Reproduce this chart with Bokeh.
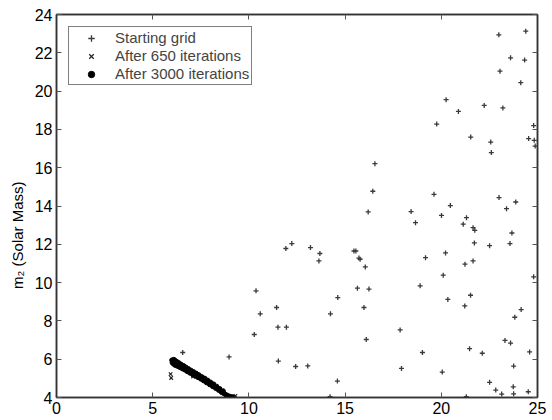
from bokeh.plotting import figure
from bokeh.models import LinearAxis, SingleIntervalTicker, Legend, LegendItem, Range1d, CustomLabelingPolicy
from bokeh.embed import file_html
from bokeh.resources import INLINE

# Starting grid points (m1, m2)
grid_x = [22.99, 24.39, 23.6, 24.33, 23.05, 24.13, 20.25, 20.89, 22.23, 23.2,
          19.76, 24.8, 21.53, 24.54, 24.83, 24.88, 22.57, 22.6, 16.55, 16.44,
          19.62, 23.0, 23.87, 20.47, 23.39, 16.2, 18.43, 20.01, 18.66, 21.31,
          21.14, 21.65, 21.74, 23.67, 21.72, 22.51, 23.57, 11.92, 12.23, 13.2,
          13.69, 13.64, 15.46, 15.56, 15.72, 15.78, 16.05, 19.18, 20.22, 21.65,
          21.23, 20.1, 24.8, 10.37, 10.59, 10.28, 11.44, 11.51, 11.95, 11.53,
          12.43, 13.06, 14.24, 14.62, 14.6, 14.22, 15.64, 16.24, 15.98, 16.1,
          17.86, 17.93, 18.9, 19.02, 20.05, 20.34, 21.22, 21.52, 21.47, 21.3,
          22.13, 22.51, 22.83, 23.14, 23.31, 23.6, 23.76, 23.74, 23.76, 23.82,
          24.15, 24.52, 24.59, 6.56, 8.97]
grid_y = [22.94, 23.13, 21.74, 21.62, 21.04, 20.44, 19.55, 18.94, 19.25, 19.12,
          18.28, 18.2, 17.6, 17.52, 17.43, 17.13, 17.34, 16.79, 16.21, 14.77,
          14.61, 14.44, 14.21, 14.02, 13.86, 13.69, 13.71, 13.51, 13.13, 13.39,
          13.05, 12.87, 12.73, 12.59, 12.07, 11.93, 12.04, 11.78, 12.04, 11.83,
          11.52, 11.13, 11.65, 11.65, 11.28, 11.22, 10.82, 11.3, 11.55, 11.13,
          10.96, 10.39, 10.3, 9.57, 8.37, 7.29, 8.70, 7.67, 7.67, 5.90,
          5.62, 5.65, 8.37, 9.22, 4.86, 4.04, 9.71, 9.66, 8.70, 7.03,
          7.53, 5.52, 9.83, 6.35, 5.33, 9.12, 8.78, 9.34, 6.55, 4.04,
          6.31, 4.79, 4.39, 4.18, 6.98, 6.84, 5.64, 4.56, 4.19, 8.19,
          8.59, 4.3, 6.38, 6.35, 6.12]

# After 650 iterations
it650_x = [5.93, 5.96, 6.3, 7.1, 8.85, 9.05, 9.3]
it650_y = [5.22, 5.02, 5.75, 5.1, 4.12, 4.05, 4.08]

# After 3000 iterations
it3000_x = [6.00, 6.02, 6.05, 6.08, 6.10, 6.12, 6.15, 6.18, 6.20, 6.24,
            6.27, 6.30, 6.34, 6.37, 6.40, 6.44, 6.48, 6.52, 6.56, 6.60,
            6.64, 6.68, 6.72, 6.76, 6.80, 6.85, 6.90, 6.94, 6.98, 7.03,
            7.08, 7.12, 7.17, 7.22, 7.26, 7.31, 7.36, 7.40, 7.45, 7.50,
            7.55, 7.60, 7.65, 7.70, 7.75, 7.80, 7.85, 7.90, 7.96, 8.00,
            8.06, 8.12, 8.16, 8.22, 8.28, 8.32, 8.38, 8.44, 8.48, 8.54,
            8.60, 8.66, 8.72, 8.80, 8.88, 9.00, 9.15]
it3000_y = [5.95, 5.82, 5.90, 5.76, 5.98, 5.85, 5.70, 5.92, 5.80, 5.66,
            5.86, 5.74, 5.62, 5.80, 5.68, 5.56, 5.72, 5.60, 5.50, 5.66,
            5.52, 5.44, 5.58, 5.46, 5.36, 5.50, 5.38, 5.28, 5.42, 5.30,
            5.20, 5.34, 5.22, 5.12, 5.26, 5.14, 5.05, 5.18, 5.06, 4.97,
            5.08, 4.96, 4.88, 5.00, 4.86, 4.78, 4.90, 4.76, 4.68, 4.80,
            4.66, 4.58, 4.70, 4.55, 4.48, 4.58, 4.44, 4.38, 4.46, 4.32,
            4.26, 4.34, 4.20, 4.15, 4.10, 4.06, 4.03]

legend_labels = ["Starting grid", "After 650 iterations", "After 3000 iterations"]
y_label = "m\u2082 (Solar Mass)"

FONT = "Liberation Sans"

p = figure(width=552, height=420, x_range=Range1d(0, 25), y_range=Range1d(4, 24),
           output_backend="svg", toolbar_location=None,
           min_border_left=56, min_border_top=14, min_border_right=8, min_border_bottom=23)
p.grid.visible = False
p.outline_line_color = "#333333"
p.outline_line_width = 1.5
p.background_fill_color = "white"
p.border_fill_color = "white"

p.xaxis.ticker = SingleIntervalTicker(interval=5, num_minor_ticks=0)
p.yaxis.ticker = SingleIntervalTicker(interval=2, num_minor_ticks=0)
# trailing no-break spaces shift the centred label down, as in the reference
p.yaxis.axis_label = y_label + "\u00a0" * 14
p.yaxis.axis_label_text_font = FONT
p.yaxis.axis_label_text_font_style = "normal"
p.yaxis.axis_label_text_font_size = "15px"
p.yaxis.axis_label_text_color = "black"
p.yaxis.axis_label_standoff = 6

for ax in [p.xaxis[0], p.yaxis[0]]:
    ax.major_tick_in = 5
    ax.major_tick_out = 0
    ax.minor_tick_in = 0
    ax.minor_tick_out = 0
    ax.major_label_text_font = FONT
    ax.major_label_text_font_size = "16px"
    ax.major_label_text_color = "black"
    ax.major_label_standoff = 4
    ax.axis_line_color = "#333333"
    ax.axis_line_width = 1.5
    ax.major_tick_line_color = "#555555"

no_labels = CustomLabelingPolicy(code="for (const i of [...indices]) { indices.unset(i) }; return indices")
top = LinearAxis(ticker=SingleIntervalTicker(interval=5, num_minor_ticks=0))
right = LinearAxis(ticker=SingleIntervalTicker(interval=2, num_minor_ticks=0))
for ax in [top, right]:
    ax.major_tick_in = 5
    ax.major_tick_out = 0
    ax.minor_tick_in = 0
    ax.minor_tick_out = 0
    ax.major_label_policy = no_labels
    ax.major_label_standoff = 0
    ax.axis_line_color = "#333333"
    ax.axis_line_width = 1.5
    ax.major_tick_line_color = "#555555"
p.add_layout(top, "above")
p.add_layout(right, "right")

r_grid = p.scatter(grid_x, grid_y, marker="cross", size=5, line_color="#3a3a3a", line_width=1.3)
r650 = p.scatter(it650_x, it650_y, marker="x", size=5, line_color="#222222", line_width=1.2)
r3000 = p.scatter(it3000_x, it3000_y, marker="circle", size=4.5, fill_color="black", line_color="black")

legend = Legend(items=[LegendItem(label=legend_labels[0], renderers=[r_grid]),
                       LegendItem(label=legend_labels[1], renderers=[r650]),
                       LegendItem(label=legend_labels[2], renderers=[r3000])],
                location="top_left")
legend.label_text_font = FONT
legend.label_text_font_size = "15px"
legend.border_line_color = "black"
legend.border_line_width = 1
legend.background_fill_color = "white"
legend.background_fill_alpha = 1
legend.margin = 12
legend.padding = 2
legend.spacing = 1
legend.label_height = 16
legend.glyph_height = 16
legend.glyph_width = 40
legend.label_standoff = 4
p.add_layout(legend)

open("out.html", "w").write(file_html(p, INLINE))
